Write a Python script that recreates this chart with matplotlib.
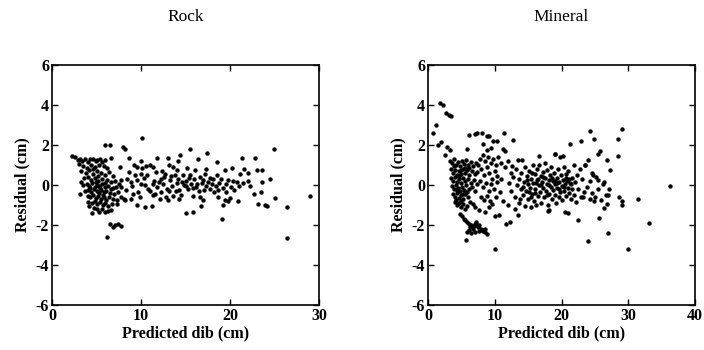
import numpy as np
import matplotlib.pyplot as plt

# residuals (x = predicted dib, y = residual), cm
rock_left = [
    (2.3, 1.43), (2.6, 1.38), (2.9, 1.25), (3.1, 1.3), (3.4, 1.2), (3.7, 1.32), (4.0, 1.15), (4.3, 1.3),
    (4.6, 1.32), (4.9, 1.2), (5.1, 1.25), (5.4, 1.3), (5.6, 1.15), (5.9, 1.25), (6.6, 1.35),
    (3.0, 1.05), (3.5, 0.95), (3.9, 0.85), (4.4, 1.0), (4.8, 0.9), (5.3, 1.0), (5.8, 0.95), (6.2, 0.85),
    (3.3, 0.7), (3.8, 0.6), (4.2, 0.75), (4.6, 0.55), (5.0, 0.7), (5.5, 0.6), (6.0, 0.5), (6.4, 0.65), (6.9, 0.45),
    (3.6, 0.35), (4.0, 0.4), (4.4, 0.25), (4.8, 0.35), (5.2, 0.2), (5.6, 0.3), (6.2, 0.25), (6.6, 0.15),
    (7.1, 0.2), (7.5, 0.05), (3.5, 0.0), (3.9, 0.05), (4.2, -0.05), (4.5, 0.1), (4.8, -0.1), (5.0, 0.0),
    (5.3, -0.05), (5.6, 0.05), (5.9, -0.1), (6.3, -0.05), (6.8, -0.15), (7.2, -0.1),
    (3.7, -0.3), (4.1, -0.25), (4.4, -0.35), (4.7, -0.2), (5.0, -0.3), (5.3, -0.4), (5.5, -0.25), (5.8, -0.35),
    (6.1, -0.3), (6.5, -0.4), (7.0, -0.45), (7.4, -0.35),
    (4.0, -0.55), (4.3, -0.6), (4.6, -0.5), (4.9, -0.65), (5.2, -0.55), (5.5, -0.7), (5.8, -0.6), (6.1, -0.75),
    (6.4, -0.6), (6.8, -0.7), (7.3, -0.75), (7.7, -0.6),
    (4.1, -0.85), (4.5, -0.9), (4.8, -0.8), (5.1, -0.95), (5.4, -0.85), (5.7, -1.0), (6.0, -0.9), (6.3, -1.05),
    (6.7, -0.95), (7.3, -0.95), (4.2, -1.05), (4.5, -1.4), (4.7, -1.15), (5.0, -1.2), (5.3, -1.35), (5.6, -1.2),
    (5.9, -1.35), (6.3, -1.3), (6.6, -1.25),
    (6.2, -2.6), (6.5, -1.93), (6.85, -2.1), (7.05, -2.0), (7.45, -1.93), (7.75, -2.03),
    (5.9, 2.0), (6.5, 2.0), (8.0, 1.9), (8.2, 1.82), (8.6, 1.37), (7.6, 0.9), (7.8, 0.23), (7.8, -0.1),
    (8.1, -0.7), (8.2, -0.77), (4.6, 0.8), (5.2, 0.45), (4.3, -0.15), (5.7, -0.5), (6.0, 0.1), (4.9, 0.15),
    (5.4, -0.15), (6.6, -0.2), (3.3, 0.15), (3.2, -0.45),
]
rock_mid = [
    (8.4, 0.32), (8.7, 0.65), (8.9, 0.15), (8.35, -0.27), (8.9, -0.72), (9.1, -0.43), (9.3, 0.48), (9.5, 0.9),
    (9.7, -0.35), (9.85, -0.6), (9.5, -1.02), (10.0, 0.57), (10.05, 0.07), (10.1, 0.85), (10.4, -0.02),
    (10.4, -1.1), (10.6, 0.95), (10.8, -0.18), (10.1, 2.37), (10.0, 1.2), (11.0, 1.02), (11.2, -1.05),
    (11.35, -0.5), (11.7, 0.65), (11.8, 1.35), (11.5, 0.2), (11.8, -0.1), (12.1, -0.7), (12.2, 0.3),
    (12.5, 0.05), (12.7, 0.57), (12.85, -0.6), (12.9, -0.2), (13.0, 1.37), (13.2, 1.02), (13.3, 0.25),
    (13.6, 0.9), (13.6, -0.55), (13.5, -0.05), (13.8, 0.52), (14.0, 0.1), (14.15, 1.2), (14.35, 1.52),
    (14.3, -0.25), (14.5, -0.5), (14.3, -0.7), (14.7, 0.48), (14.8, 0.0), (15.0, -1.38), (15.1, 0.2),
    (15.2, 0.85), (15.3, -0.2), (15.5, 1.78), (15.5, 0.52), (15.6, 0.05), (15.85, -0.55), (15.85, -1.35),
    (16.0, 0.3), (16.1, 0.73), (16.2, -0.1), (16.4, 1.32), (16.5, -0.3), (16.6, -0.6), (16.7, -1.07),
    (16.8, 0.1), (16.95, -0.77), (17.0, 0.25), (17.2, 0.57), (17.3, 0.78), (17.3, -0.05), (17.4, 1.58),
    (17.7, 0.35), (17.8, -0.2), (18.0, 0.05), (18.2, -0.35), (18.5, 1.15), (18.5, 0.48), (18.4, -0.05),
    (18.65, -0.6), (18.8, 0.1), (19.0, 0.32), (19.1, -1.68), (19.2, -1.0), (19.2, -0.15), (19.4, 0.73),
    (19.4, -0.77), (19.6, 0.05), (19.8, 0.23), (19.8, -0.82), (20.0, -0.65), (20.1, -0.1), (20.2, 0.85),
    (20.3, 0.18), (20.5, -0.25), (20.8, 0.15), (20.9, -0.8), (21.1, 0.57), (21.0, -0.05), (21.4, 1.37),
    (21.6, 0.82), (21.5, 0.1), (22.0, 0.6), (22.2, -0.03), (22.7, -0.47),
    (11.0, -0.3), (11.4, 0.05), (12.0, 0.15), (12.3, -0.35), (12.6, 0.4), (13.1, -0.3), (13.4, 0.45),
    (13.9, -0.3), (14.2, 0.3), (14.6, 0.15), (15.0, -0.05), (15.4, 0.35), (15.8, -0.15), (16.3, 0.05),
    (16.6, 0.4), (17.1, -0.25), (17.5, 0.15), (18.1, 0.3), (18.6, -0.25), (19.5, -0.35), (9.0, -0.05),
    (9.6, 0.25), (10.3, 0.35), (10.7, 0.5), (11.6, -0.45), (12.4, 0.7), (13.0, -0.75), (14.0, 0.75),
    (9.2, 1.0), (11.3, 0.9),
]
rock_right = [
    (22.8, 1.37), (23.0, 0.77), (23.6, 0.77), (23.6, 0.15), (23.5, -0.37), (23.2, -0.95), (23.9, -1.0),
    (24.2, -1.07), (24.5, 0.28), (24.9, 1.82), (25.05, -0.65), (26.4, -1.1), (26.4, -2.63), (28.95, -0.53),
    (22.0, 0.2),
]

mineral_left = [
    (0.7, 2.6), (1.25, 3.0), (1.75, 4.12), (2.25, 4.02), (2.75, 3.6), (3.1, 3.52), (3.5, 3.47), (1.5, 1.98),
    (2.0, 2.15), (2.5, 1.48), (2.85, 1.9), (3.25, 1.77),
    (5.85, 1.82), (6.1, 2.48), (7.0, 2.57), (7.3, 2.6), (8.1, 2.6), (8.8, 2.43), (9.2, 2.43), (9.8, 2.2),
    (10.4, 2.2), (11.4, 2.6), (12.7, 2.27), (8.3, 2.07), (8.8, 1.77), (9.5, 1.85), (11.3, 1.82), (11.6, 1.7),
    (3.3, 1.2), (3.6, 1.1), (3.9, 1.3), (4.2, 1.0), (4.5, 1.15), (4.8, 0.95), (5.1, 1.2), (5.4, 1.05),
    (5.7, 1.25), (6.0, 1.0), (6.4, 1.15), (6.8, 0.95), (7.2, 1.1), (7.5, 1.0),
    (3.4, 0.8), (3.7, 0.6), (4.0, 0.75), (4.3, 0.5), (4.6, 0.7), (4.9, 0.55), (5.2, 0.8), (5.5, 0.6),
    (5.8, 0.75), (6.2, 0.5), (6.6, 0.7), (7.0, 0.55), (7.4, 0.65),
    (3.5, 0.35), (3.8, 0.2), (4.1, 0.4), (4.4, 0.15), (4.7, 0.3), (5.0, 0.1), (5.3, 0.35), (5.6, 0.2),
    (6.0, 0.3), (6.4, 0.1), (6.9, 0.25), (7.3, 0.05),
    (3.6, -0.05), (3.9, -0.2), (4.2, 0.0), (4.5, -0.15), (4.8, -0.3), (5.1, -0.1), (5.4, -0.25), (5.7, 0.0),
    (6.1, -0.2), (6.6, -0.1), (7.1, -0.3),
    (3.8, -0.45), (4.1, -0.6), (4.4, -0.4), (4.7, -0.65), (5.0, -0.5), (5.3, -0.7), (5.6, -0.45), (6.0, -0.6),
    (6.3, -0.85), (6.8, -0.93), (4.0, -0.85), (4.3, -1.0), (4.6, -0.9), (4.9, -1.1), (5.2, -0.95),
    (5.5, -1.2), (5.8, -1.05), (4.4, -0.25), (4.9, 0.75), (5.3, -0.45), (4.6, 0.45), (5.6, 0.85), (3.9, 0.95),
    (4.2, -0.75), (5.0, -0.8), (6.2, 0.85), (5.9, -0.35),
    (4.85, -1.43), (5.1, -1.55), (5.35, -1.68), (5.6, -1.75), (5.85, -1.85), (6.1, -1.93), (6.3, -2.1),
    (6.5, -2.0), (6.7, -2.2), (6.9, -2.05), (7.1, -1.95), (7.3, -2.02), (7.5, -2.1), (7.7, -2.0), (7.9, -2.2),
    (8.1, -2.25), (8.3, -2.3), (8.5, -2.35), (8.8, -2.43), (5.85, -2.35), (6.1, -2.25), (6.5, -2.4),
    (7.2, -1.85), (7.6, -2.3), (8.6, -2.2), (5.7, -2.73), (7.0, -2.35),
    (7.6, -1.27), (7.1, -1.1), (8.6, -1.35), (9.1, -1.1), (9.6, -0.97), (10.0, -1.55), (10.6, -1.48),
    (10.1, -3.22), (11.7, -1.93), (12.3, -1.85),
    (7.8, 1.3), (8.2, 1.5), (8.5, 1.2), (9.0, 1.4), (9.4, 1.1), (9.8, 1.3), (10.2, 1.0), (10.5, 1.4),
    (11.0, 1.1), (8.0, 0.8), (8.4, 0.5), (8.8, 0.9), (9.2, 0.6), (9.6, 0.3), (10.0, 0.7), (10.4, 0.45),
    (7.8, 0.2), (8.3, -0.1), (8.7, 0.1), (9.1, -0.3), (9.5, 0.05), (9.9, -0.2), (10.3, 0.15), (7.9, -0.6),
    (8.4, -0.75), (8.9, -0.55), (9.3, -0.8), (10.2, -0.6), (10.8, -0.35), (11.2, -0.8), (11.0, 0.3),
    (11.5, 0.9), (12.0, 1.2), (12.4, 0.6),
]
mineral_mid = [
    (12.2, 0.1), (12.5, -0.3), (12.8, 0.4), (13.0, -0.6), (13.2, 0.8), (13.3, 0.0), (13.5, 1.23), (13.6, -0.9),
    (13.7, 0.3), (13.9, -0.2), (14.1, 1.27), (14.0, 0.6), (14.2, -0.5), (14.4, 0.15), (14.5, -1.05),
    (14.6, 0.9), (14.7, -0.3), (14.8, 0.45), (15.0, -0.7), (15.0, 0.05), (15.2, 0.7), (15.3, -0.15),
    (15.4, -1.1), (15.5, 0.3), (15.6, -0.45), (15.7, 1.0), (15.8, 0.1), (15.9, -0.8), (16.0, 0.55),
    (16.1, -0.2), (16.2, -1.0), (16.3, 0.25), (16.4, 0.8), (16.5, -0.55), (16.6, 0.0), (16.7, 0.98),
    (16.8, -0.35), (16.9, 0.45), (17.0, -0.9), (17.1, 0.15), (17.2, 0.65), (17.3, -0.15), (17.4, -0.6),
    (17.5, 0.35), (17.6, 1.1), (17.7, -0.3), (17.8, 0.05), (17.9, 0.75), (18.0, -1.0), (18.05, -1.3),
    (18.1, 0.25), (18.2, -0.45), (18.3, 0.5), (18.4, -0.1), (18.5, 0.9), (18.6, -0.7), (18.7, 0.2),
    (18.8, -0.25), (18.9, 0.6), (19.05, 1.57), (19.0, -0.5), (19.1, 0.05), (19.2, -0.9), (19.3, 0.35),
    (19.4, -0.15), (19.5, 0.8), (19.6, -0.6), (19.7, 0.15), (19.85, 1.4), (19.8, -0.35), (19.9, 0.5),
    (20.0, -0.05), (20.15, 1.43), (20.1, -0.75), (20.2, 0.25), (20.3, 0.9), (20.4, -0.3), (20.5, -1.35),
    (20.5, 0.05), (20.6, 0.55), (20.7, -0.55), (20.8, 0.2), (20.9, -0.15), (21.0, -1.4), (21.0, 0.7),
    (21.1, -0.4), (21.2, 0.1), (21.3, 2.07), (21.4, -0.7), (21.5, 0.35), (21.6, -0.2), (21.8, 1.0),
    (21.9, -0.5), (22.0, 0.15), (22.2, -0.85), (22.3, 0.5), (22.5, -1.77), (22.5, -0.2), (22.7, 0.8),
    (22.9, 2.2), (22.9, -0.6), (23.1, 0.3), (23.3, -0.35),
    (14.3, -0.1), (14.9, 0.25), (15.1, -0.35), (15.6, 0.6), (16.0, -0.4), (16.5, 0.3), (17.0, 0.0),
    (17.3, 0.4), (17.8, -0.5), (18.2, 0.0), (18.6, 0.35), (19.0, 0.2), (19.4, 0.1), (19.7, -0.2),
    (20.3, -0.1), (20.7, 0.35), (21.1, 0.3), (21.4, 0.05), (16.2, 0.1), (15.4, -0.6), (12.0, -1.0),
    (13.0, -1.2), (12.6, 0.95), (13.8, -0.7), (13.5, -1.48), (16.7, 1.45), (19.0, 1.53), (18.2, -1.27),
]
mineral_right = [
    (23.5, 1.0), (23.8, -0.1), (23.9, -2.82), (24.0, 1.23), (24.2, 2.7), (24.3, 0.2), (24.5, -0.4),
    (24.6, 0.6), (24.8, -0.8), (24.9, 2.32), (25.2, 0.4), (25.4, 1.57), (25.5, -0.2), (25.6, -1.63),
    (25.7, 1.7), (25.9, -0.75), (26.2, 0.05), (26.4, -1.15), (26.6, -0.5), (26.8, 1.27), (26.8, -0.93),
    (26.9, -2.38), (27.0, -0.52), (27.3, 0.73), (27.1, -0.2), (28.4, 2.28), (28.5, 1.43), (28.6, -0.6),
    (29.0, 2.78), (29.1, -0.82), (29.1, -1.02), (30.0, -3.18), (31.5, -0.68), (33.1, -1.88), (36.3, -0.03),
    (23.2, -0.6), (24.2, -0.72), (24.95, -0.6), (23.45, 0.98), (24.7, 0.48), (25.45, 0.23), (26.35, 0.15),
]

panels = [("Rock", rock_left + rock_mid + rock_right, 30, [0, 10, 20, 30]),
          ("Mineral", mineral_left + mineral_mid + mineral_right, 40, [0, 10, 20, 30, 40])]

plt.rcParams['font.family'] = ['Liberation Serif', 'DejaVu Serif']
plt.rcParams['axes.unicode_minus'] = False  # plain hyphen as in the scan
fig = plt.figure(figsize=(7.04, 3.5), dpi=100)
lefts = [52 / 704, 428 / 704]

for (name, pts, xmax, xt), l in zip(panels, lefts):
    ax = fig.add_axes([l, 45 / 350, 267 / 704, 240 / 350])
    p = np.array(pts)
    ax.scatter(p[:, 0], p[:, 1], s=10, c='black', linewidths=0)
    ax.set_xlim(0, xmax)
    ax.set_ylim(-6, 6)
    ax.set_xticks(xt)
    ax.set_yticks([-6, -4, -2, 0, 2, 4, 6])
    ax.tick_params(direction='in', length=4, width=1, top=True, right=True,
                   labelsize=11.5, pad=2)
    for lab in ax.get_xticklabels() + ax.get_yticklabels():
        lab.set_fontweight('bold')
    for sp in ax.spines.values():
        sp.set_linewidth(1.2)
    ax.set_xlabel("Predicted dib (cm)", fontsize=11.5, fontweight='bold', labelpad=1)
    ax.set_ylabel("Residual (cm)", fontsize=11.5, fontweight='bold', labelpad=4)
    ax.set_title(name, fontsize=12.5, pad=32)

fig.savefig("out.png", dpi=100)
